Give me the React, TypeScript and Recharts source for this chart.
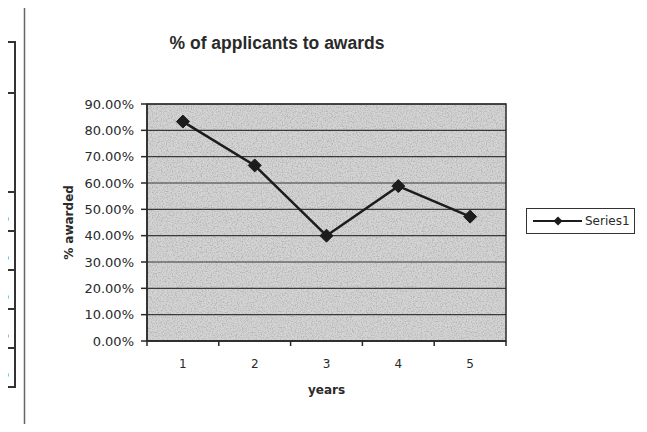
import React from 'react';
import {
  LineChart,
  Line,
  XAxis,
  YAxis,
  CartesianGrid,
  ReferenceArea,
} from 'recharts';

const years = [1, 2, 3, 4, 5];
const awarded = [0.8333, 0.6667, 0.4, 0.5882, 0.4722];
const yTicks = [0, 0.1, 0.2, 0.3, 0.4, 0.5, 0.6, 0.7, 0.8, 0.9];
// integer ticks carry the labels, half ticks are the Excel-style tick marks between categories
const xTicks = [0.5, 1, 1.5, 2, 2.5, 3, 3.5, 4, 4.5, 5, 5.5];
const tableRows = [42, 93, 192, 231, 270, 309, 348, 387];

const data = years.map((year, i) => ({ year, awarded: awarded[i] }));

const ink = '#2a2a2a';
const font = '"DejaVu Sans", sans-serif';

const XTick = (props: any) => {
  const { x, y, payload } = props;
  const v = payload.value;
  if (Number.isInteger(v)) {
    return (
      <text x={x} y={y + 19} textAnchor="middle" fontSize={12} fontFamily={font} fill={ink}>
        {v}
      </text>
    );
  }
  return <line x1={x} x2={x} y1={y - 8} y2={y - 3} stroke={ink} strokeWidth={1.5} />;
};

const YTick = (props: any) => {
  const { x, y, payload } = props;
  return (
    <text x={x} y={y + 4.5} textAnchor="end" fontSize={13} fontFamily={font} fill={ink}>
      {(payload.value * 100).toFixed(2)}%
    </text>
  );
};

const Diamond = (props: any) => {
  const { cx, cy } = props;
  if (cx == null || cy == null) return null;
  const r = 6.5;
  return (
    <path
      d={`M${cx},${cy - r}L${cx + r},${cy}L${cx},${cy + r}L${cx - r},${cy}Z`}
      fill="#1c1c1c"
      stroke="#1c1c1c"
    />
  );
};

export default function App() {
  return (
    <div
      style={{
        position: 'relative',
        width: 647,
        height: 432,
        margin: -8,
        overflow: 'hidden',
        background: '#fff',
      }}
    >
      {/* page layer: speckle pattern, the worksheet table edge and the chart frame */}
      <svg width={647} height={432} style={{ position: 'absolute', left: 0, top: 0 }}>
        <defs>
          <filter id="grain" x="0" y="0" width="100%" height="100%">
            <feTurbulence type="fractalNoise" baseFrequency="0.8" numOctaves={2} seed={3} />
            <feColorMatrix
              type="matrix"
              values="0 0 0 0 0.3  0 0 0 0 0.3  0 0 0 0 0.3  0 0 0 1.4 -0.6"
            />
          </filter>
          <pattern id="speckle" patternUnits="userSpaceOnUse" width={647} height={432}>
            <rect width={647} height={432} fill="#d4d4d4" />
            <rect width={647} height={432} filter="url(#grain)" />
          </pattern>
        </defs>
        <line x1={15} x2={15} y1={42} y2={388} stroke="#333" strokeWidth={2} />
        {tableRows.map((t) => (
          <line key={t} x1={0} x2={16} y1={t} y2={t} stroke="#333" strokeWidth={2} />
        ))}
        <text x={-2} y={139} fontFamily={font} fontSize={14} fill={ink}>
          s
        </text>
        {tableRows.slice(2, 7).map((t) => (
          <text key={'p' + t} x={-6} y={t + 30} fontFamily={font} fontSize={16} fill={ink}>
            %
          </text>
        ))}
        <line x1={24.5} x2={24.5} y1={5} y2={428} stroke="#666" strokeWidth={1.5} />
        <line x1={24} x2={647} y1={5.5} y2={5.5} stroke="#777" strokeWidth={1.5} />
        <line x1={24} x2={647} y1={427.5} y2={427.5} stroke="#ccc" strokeWidth={1} />
      </svg>

      <div
        style={{
          position: 'absolute',
          left: 0,
          top: 33,
          width: 554,
          textAlign: 'center',
          fontFamily: '"Liberation Sans", Arial, sans-serif',
          fontWeight: 'bold',
          fontSize: 17.5,
          color: ink,
        }}
      >
        % of applicants to awards
      </div>

      <div style={{ position: 'absolute', left: 0, top: 0 }}>
        <LineChart width={647} height={432} data={data} margin={{ top: 104, right: 141, bottom: 31, left: 0 }}>
          <CartesianGrid vertical={false} fill="url(#speckle)" fillOpacity={1} stroke="#3a3a3a" strokeWidth={1.2} />
          <XAxis
            dataKey="year"
            type="number"
            domain={[0.5, 5.5]}
            ticks={xTicks}
            interval={0}
            tickLine={false}
            tick={<XTick />}
            stroke={ink}
            strokeWidth={1.5}
            height={60}
            label={{
              value: 'years',
              position: 'center',
              dy: 19,
              style: { fontFamily: font, fontWeight: 'bold', fontSize: 12, fill: ink },
            }}
          />
          <YAxis
            domain={[0, 0.9]}
            ticks={yTicks}
            interval={0}
            width={147}
            tickSize={6}
            tickMargin={7}
            tick={<YTick />}
            stroke={ink}
            strokeWidth={1.5}
            label={{
              value: '% awarded',
              angle: -90,
              position: 'center',
              dx: -5,
              style: { fontFamily: font, fontWeight: 'bold', fontSize: 12, fill: ink },
            }}
          />
          <ReferenceArea x1={0.5} x2={5.5} y1={0} y2={0.9} fill="none" stroke={ink} strokeWidth={1.5} ifOverflow="visible" />
          <Line
            type="linear"
            dataKey="awarded"
            stroke="#1c1c1c"
            strokeWidth={2.5}
            dot={<Diamond />}
            activeDot={false}
            isAnimationActive={false}
          />
        </LineChart>
      </div>

      {/* legend */}
      <div
        style={{
          position: 'absolute',
          left: 526,
          top: 208,
          width: 107,
          height: 24,
          border: '1px solid #333',
          display: 'flex',
          alignItems: 'center',
          fontFamily: font,
          fontSize: 12,
          color: ink,
        }}
      >
        <svg width={58} height={24}>
          <line x1={6} x2={55} y1={12} y2={12} stroke="#1c1c1c" strokeWidth={2} />
          <path d="M31,7.5L35.5,12L31,16.5L26.5,12Z" fill="#1c1c1c" />
        </svg>
        <span>Series1</span>
      </div>
    </div>
  );
}
